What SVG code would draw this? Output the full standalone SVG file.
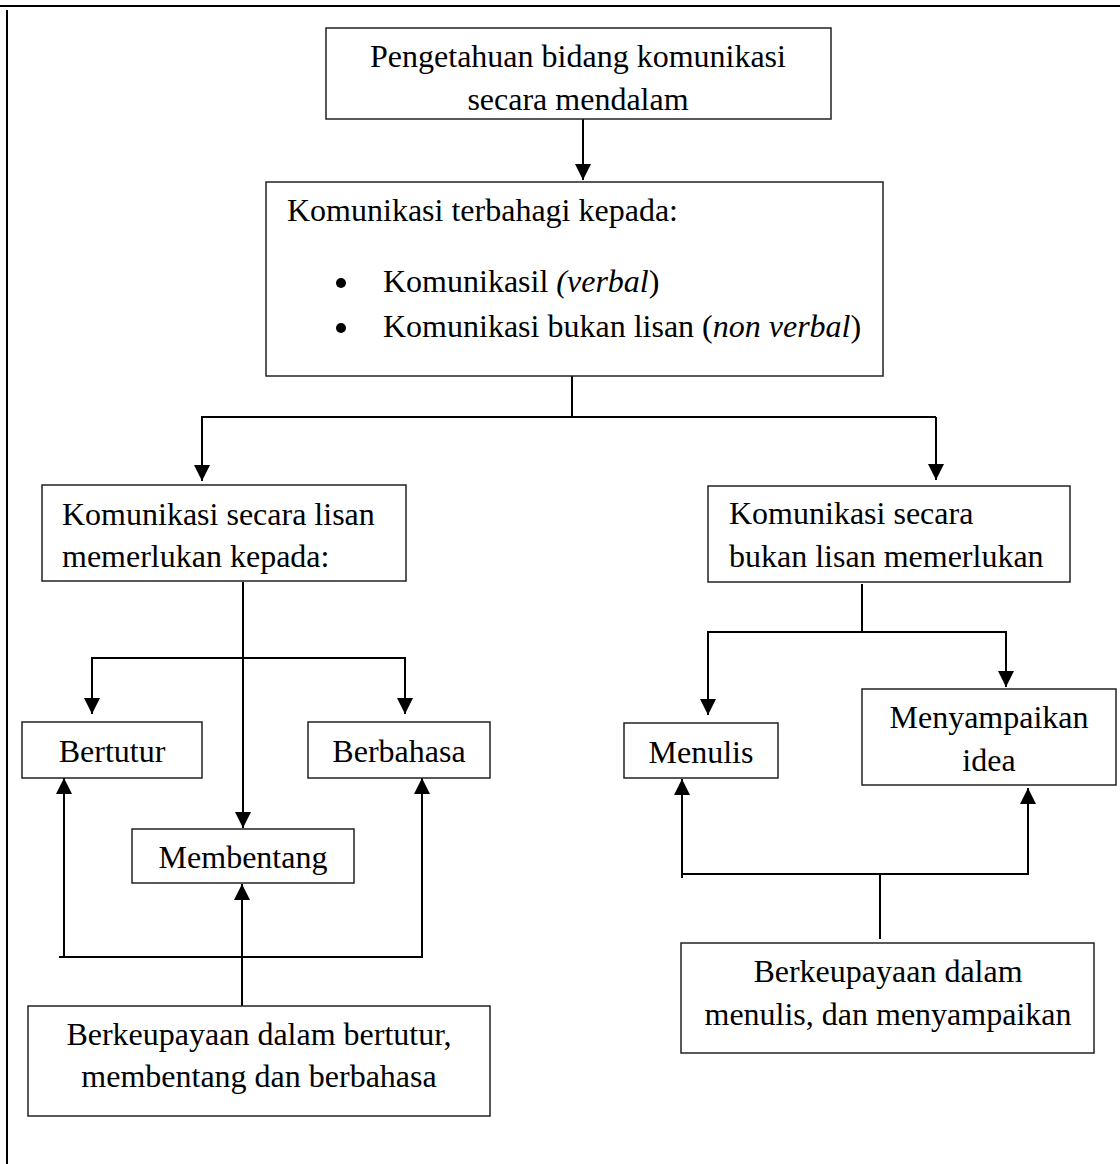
<svg xmlns="http://www.w3.org/2000/svg" width="1120" height="1164" viewBox="0 0 1120 1164">
<style>
.box{fill:#fff;stroke:#222;stroke-width:1.5}
.t{font-family:"Liberation Serif","Times New Roman",serif;font-size:32px;fill:#000}
.c{text-anchor:middle}
.ln{fill:none;stroke:#000;stroke-width:2}
.ar{fill:none;stroke:#000;stroke-width:2;marker-end:url(#ah)}
</style>
<defs>
<marker id="ah" markerUnits="userSpaceOnUse" markerWidth="16" markerHeight="16" refX="16" refY="8" orient="auto">
<path d="M0,0 L16,8 L0,16 z" fill="#000"/>
</marker>
</defs>
<rect width="1120" height="1164" fill="#fff"/>
<g id="frame">
<line x1="0" y1="6" x2="1120" y2="6" class="ln"/>
<line x1="7" y1="10" x2="7" y2="1164" class="ln"/>
</g>
<g id="connectors">
<line x1="583" y1="119" x2="583" y2="180" class="ar"/>
<polyline points="572,376 572,417" class="ln"/>
<line x1="201" y1="417" x2="936" y2="417" class="ln"/>
<line x1="202" y1="417" x2="202" y2="481" class="ar"/>
<line x1="936" y1="417" x2="936" y2="480" class="ar"/>
<line x1="243" y1="582" x2="243" y2="828" class="ar"/>
<line x1="91" y1="658" x2="406" y2="658" class="ln"/>
<line x1="92" y1="658" x2="92" y2="714" class="ar"/>
<line x1="405" y1="658" x2="405" y2="714" class="ar"/>
<line x1="59" y1="957" x2="423" y2="957" class="ln"/>
<line x1="64" y1="957" x2="64" y2="778" class="ar"/>
<line x1="422" y1="957" x2="422" y2="778" class="ar"/>
<line x1="242" y1="1006" x2="242" y2="884" class="ar"/>
<line x1="862" y1="584" x2="862" y2="632" class="ln"/>
<line x1="707" y1="632" x2="1007" y2="632" class="ln"/>
<line x1="708" y1="632" x2="708" y2="715" class="ar"/>
<line x1="1006" y1="632" x2="1006" y2="687" class="ar"/>
<line x1="681" y1="874" x2="1029" y2="874" class="ln"/>
<line x1="682" y1="878" x2="682" y2="779" class="ar"/>
<line x1="1028" y1="874" x2="1028" y2="788" class="ar"/>
<line x1="880" y1="874" x2="880" y2="939" class="ln"/>
</g>
<g id="n_pengetahuan">
<rect x="326" y="28" width="505" height="91" class="box"/>
<text class="t c" x="578" y="67">Pengetahuan bidang komunikasi</text>
<text class="t c" x="578" y="110">secara mendalam</text>
</g>
<g id="n_terbahagi">
<rect x="266" y="182" width="617" height="194" class="box"/>
<text class="t" x="287" y="221">Komunikasi terbahagi kepada:</text>
<circle cx="341" cy="283" r="5" fill="#000"/>
<circle cx="341" cy="328" r="5" fill="#000"/>
<text class="t" x="383" y="292">Komunikasil <tspan font-style="italic">(verbal</tspan>)</text>
<text class="t" x="383" y="337">Komunikasi bukan lisan (<tspan font-style="italic">non verbal</tspan>)</text>
</g>
<g id="n_lisan">
<rect x="42" y="485" width="364" height="96" class="box"/>
<text class="t" x="62" y="525">Komunikasi secara lisan</text>
<text class="t" x="62" y="567">memerlukan kepada:</text>
</g>
<g id="n_bukan_lisan">
<rect x="708" y="486" width="362" height="96" class="box"/>
<text class="t" x="729" y="524">Komunikasi secara</text>
<text class="t" x="729" y="567">bukan lisan memerlukan</text>
</g>
<g id="n_bertutur">
<rect x="22" y="722" width="180" height="56" class="box"/>
<text class="t c" x="112" y="762">Bertutur</text>
</g>
<g id="n_berbahasa">
<rect x="308" y="722" width="182" height="56" class="box"/>
<text class="t c" x="399" y="762">Berbahasa</text>
</g>
<g id="n_membentang">
<rect x="132" y="829" width="222" height="54" class="box"/>
<text class="t c" x="243" y="868">Membentang</text>
</g>
<g id="n_berkeupayaan_lisan">
<rect x="28" y="1006" width="462" height="110" class="box"/>
<text class="t c" x="259" y="1045">Berkeupayaan dalam bertutur,</text>
<text class="t c" x="259" y="1087">membentang dan berbahasa</text>
</g>
<g id="n_menulis">
<rect x="624" y="723" width="154" height="55" class="box"/>
<text class="t c" x="701" y="763">Menulis</text>
</g>
<g id="n_menyampaikan">
<rect x="862" y="689" width="254" height="96" class="box"/>
<text class="t c" x="989" y="728">Menyampaikan</text>
<text class="t c" x="989" y="771">idea</text>
</g>
<g id="n_berkeupayaan_bukan">
<rect x="681" y="943" width="413" height="110" class="box"/>
<text class="t c" x="888" y="982">Berkeupayaan dalam</text>
<text class="t c" x="888" y="1025">menulis, dan menyampaikan</text>
</g>
</svg>
